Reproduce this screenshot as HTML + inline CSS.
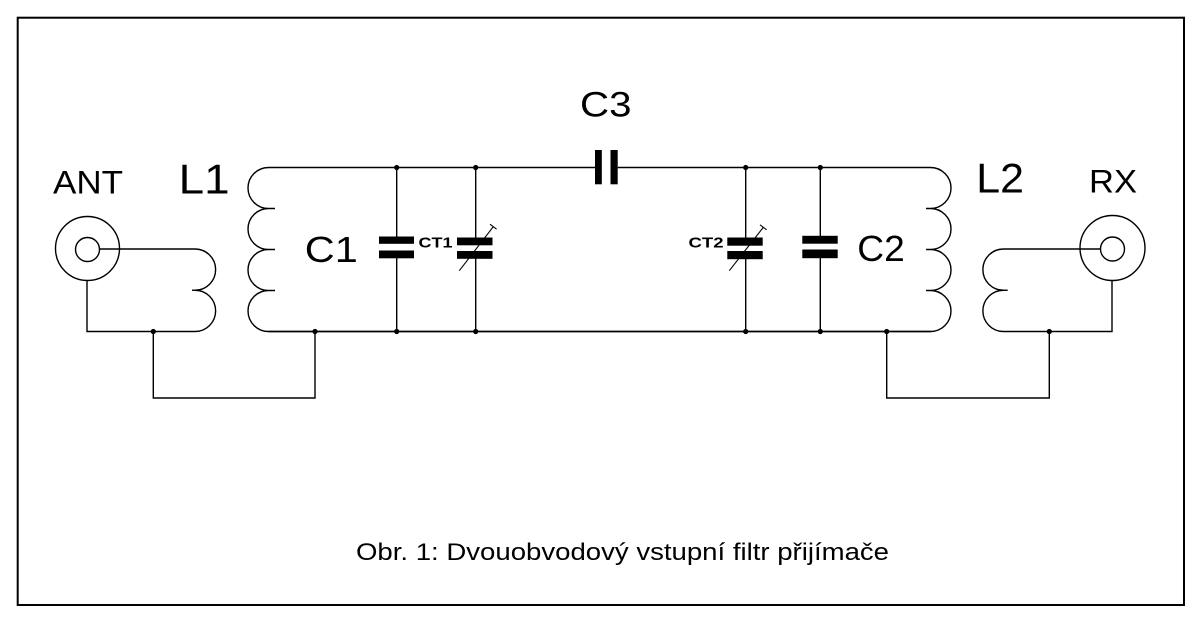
<!DOCTYPE html>
<html><head><meta charset="utf-8"><style>
html,body{margin:0;padding:0;background:#fff;}
svg{display:block;}
text{font-family:"Liberation Sans",Arial,sans-serif;fill:#000;}
</style></head><body>
<svg width="1200" height="622" viewBox="0 0 1200 622" xmlns="http://www.w3.org/2000/svg">
<rect x="0" y="0" width="1200" height="622" fill="#fff"/>
<rect x="17.7" y="17.7" width="1166.3" height="587.3" fill="none" stroke="#000" stroke-width="2"/>

<g fill="none" stroke="#000" stroke-width="1.4">
<path d="M268.5 167.5 H595 M617.7 167.5 H930.5"/>
<path d="M268.5 331.5 H930.5" stroke-width="1.8"/>
<path d="M268.5 167.5 A20.5 20.5 0 0 0 268.5 208.5 A20.5 20.5 0 0 0 268.5 249.5 A20.5 20.5 0 0 0 268.5 290.5 A20.5 20.5 0 0 0 268.5 331.5"/>
<path d="M268.5 208.5 H275 M268.5 249.5 H275 M268.5 290.5 H275"/>
<path d="M930.5 167.5 A20.5 20.5 0 0 1 930.5 208.5 A20.5 20.5 0 0 1 930.5 249.5 A20.5 20.5 0 0 1 930.5 290.5 A20.5 20.5 0 0 1 930.5 331.5"/>
<path d="M930.5 208.5 H926 M930.5 249.5 H926 M930.5 290.5 H926"/>
<path d="M99.5 249 H195 A20.6 20.6 0 0 1 195 290.25 A20.6 20.6 0 0 1 195 331.5 H87 V280.5"/>
<path d="M195 290.25 H192"/>
<path d="M1100.5 249 H1003.5 A20.6 20.6 0 0 0 1003.5 290.25 A20.6 20.6 0 0 0 1003.5 331.5 H1112 V281"/>
<path d="M1003.5 290.25 H1007.7"/>
<path d="M153.3 331.5 V398 H315 V331.5"/>
<path d="M886.7 331.5 V398 H1049.3 V331.5"/>
<circle cx="87.5" cy="248.5" r="32"/>
<circle cx="87.5" cy="249.5" r="12"/>
<circle cx="1112.5" cy="248" r="32.5"/>
<circle cx="1112.5" cy="249" r="12"/>
<path d="M396.7 167.5 V237 M396.7 258 V331.5"/>
<path d="M475.7 167.5 V237.5 M475.7 258.5 V331.5"/>
<path d="M745.7 167.5 V237.5 M745.7 259 V331.5"/>
<path d="M820.3 167.5 V236 M820.3 258 V331.5"/>
<path d="M459.3 270.7 L493.3 226.7 M490 224.2 L496.6 229.2" stroke-width="1.1"/>
<path d="M729.3 270.7 L763.3 227.3 M760 224.8 L766.6 229.8" stroke-width="1.1"/>
</g>

<g fill="#000">
<rect x="379" y="236.5" width="35" height="7.3"/>
<rect x="379" y="250.5" width="35" height="7.8"/>
<rect x="457" y="237.5" width="35.5" height="7.8"/>
<rect x="457" y="251" width="35.5" height="7.8"/>
<rect x="727.3" y="237.5" width="35.4" height="8.2"/>
<rect x="727.3" y="251" width="35.4" height="8.2"/>
<rect x="802.3" y="235.8" width="35.4" height="7.9"/>
<rect x="802.3" y="249.5" width="35.4" height="8.7"/>
<rect x="595" y="150" width="6.8" height="34.3"/>
<rect x="610.5" y="150" width="7.2" height="34.3"/>
<circle cx="396.7" cy="167.5" r="2.6"/>
<circle cx="475.7" cy="167.5" r="2.6"/>
<circle cx="745.7" cy="167.5" r="2.6"/>
<circle cx="820.3" cy="167.5" r="2.6"/>
<circle cx="396.7" cy="331.5" r="2.6"/>
<circle cx="475.7" cy="331.5" r="2.6"/>
<circle cx="745.7" cy="331.5" r="2.6"/>
<circle cx="820.3" cy="331.5" r="2.6"/>
<circle cx="315" cy="331.5" r="2.6"/>
<circle cx="153.3" cy="331.5" r="2.6"/>
<circle cx="886.7" cy="331.5" r="2.6"/>
<circle cx="1049.3" cy="331.5" r="2.6"/>
</g>

<text x="53" y="193.3" font-size="32" textLength="70" lengthAdjust="spacingAndGlyphs">ANT</text>
<text x="178.7" y="193.3" font-size="42" textLength="51" lengthAdjust="spacingAndGlyphs">L1</text>
<text x="304.8" y="262" font-size="36" textLength="53" lengthAdjust="spacingAndGlyphs">C1</text>
<text x="580" y="116.7" font-size="35" textLength="51.5" lengthAdjust="spacingAndGlyphs">C3</text>
<text x="857.3" y="261" font-size="36" textLength="47.5" lengthAdjust="spacingAndGlyphs">C2</text>
<text x="976.3" y="192.7" font-size="42" textLength="47.7" lengthAdjust="spacingAndGlyphs">L2</text>
<text x="1089" y="192.7" font-size="32" textLength="48" lengthAdjust="spacingAndGlyphs">RX</text>
<text x="418.5" y="247.5" font-size="15" font-weight="bold" textLength="34" lengthAdjust="spacingAndGlyphs">CT1</text>
<text x="688.5" y="247.5" font-size="15" font-weight="bold" textLength="35" lengthAdjust="spacingAndGlyphs">CT2</text>
<text x="356" y="560" font-size="24" textLength="533" lengthAdjust="spacingAndGlyphs">Obr. 1: Dvouobvodový vstupní filtr přijímače</text>
</svg>
</body></html>
